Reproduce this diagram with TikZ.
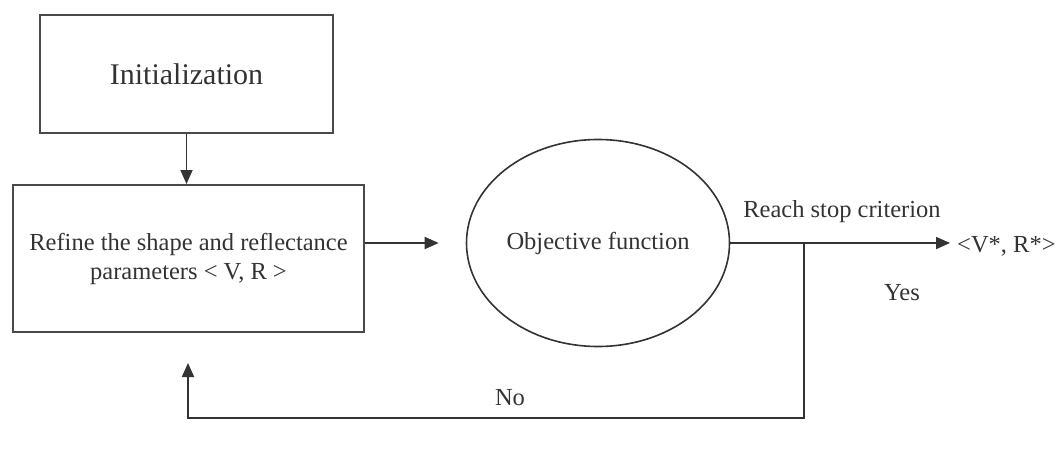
\documentclass[tikz,border=0pt]{standalone}
\usepackage{fontspec}
\setmainfont{Liberation Serif}
\usetikzlibrary{arrows.meta,shapes.geometric}
\definecolor{ink}{HTML}{333333}
\definecolor{edge}{HTML}{4a4a4a}
\tikzset{
  stepbox/.style={draw=edge, line width=2pt, rectangle, inner sep=0pt, text=ink, align=center},
  goal/.style={draw=ink, line width=1.6pt, ellipse, inner sep=0pt, text=ink},
  lbl/.style={text=ink, inner sep=0pt, font=\fontsize{24.5}{30}\selectfont},
  arr/.style={draw=ink, line width=1.8pt, -{Triangle[length=14pt,width=12pt]}},
}
\begin{document}
\begin{tikzpicture}[x=1pt,y=-1pt]
\useasboundingbox (0,0) rectangle (1059,460);

% process steps
\node[stepbox, minimum width=293pt, minimum height=118pt,
      font=\fontsize{30}{36}\selectfont] (init) at (186.5,74) {Initialization};
\node[stepbox, minimum width=351pt, minimum height=147pt,
      font=\fontsize{24.5}{30}\selectfont] (refine) at (188.5,258.5)
      {Refine the shape and reflectance\\[-1pt]parameters < V, R >};
\node[goal, minimum width=263pt, minimum height=207pt,
      font=\fontsize{24.5}{30}\selectfont] (obj) at (598,243) {Objective function};

% result and labels
\node[lbl, anchor=west] (out) at (957,246) {<V*, R*>};
\node[lbl] (stop) at (842,212) {Reach stop criterion};
\node[lbl] (yes) at (902,293) {Yes};
\node[lbl] (no) at (510,398) {No};

% loop points
\coordinate (j) at (804,242);
\coordinate (c) at (804,418);
\coordinate (fb) at (188,363);

% connectors
\draw[arr] (init.south) -- (init.south |- refine.north);
\draw[arr, shorten >=27pt] (refine.east |- obj.west) -- (obj.west);
\draw[arr, shorten >=7pt] (obj.east) -- (out.west |- obj.east);
\draw[arr] (j) -- (c) -| (fb);
\end{tikzpicture}
\end{document}
